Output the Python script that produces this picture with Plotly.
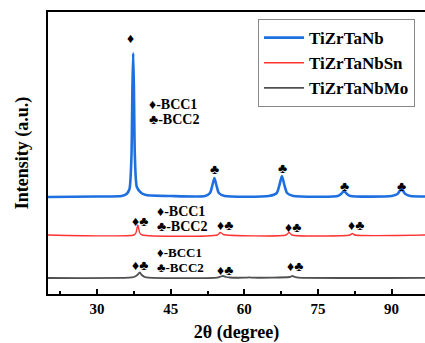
import plotly.graph_objects as go

# ---- data ----
series_names = ["TiZrTaNb", "TiZrTaNbSn", "TiZrTaNbMo"]

# TiZrTaNb (intensity above its own baseline)
tzn_x = [20, 30, 35, 36, 36.6, 37.0, 37.2, 37.35, 37.5, 37.7, 38.1, 39, 40, 45, 52, 53.0, 53.5, 53.9, 54.3, 54.8, 56,
         65, 66.6, 67.2, 67.65, 68.1, 68.7, 70, 79, 79.7, 80.3, 80.9, 81.6, 90, 91.2, 92.0, 92.8, 93.8, 97]
tzn_y = [0, 0.5, 1, 3, 8, 40, 110, 144, 110, 40, 10, 4, 2, 1, 1, 4, 12, 19, 12, 4, 1,
         1, 4, 13, 21, 13, 4, 1, 1, 3, 6, 3, 1, 1, 3, 8, 3, 1, 0.5]

# TiZrTaNbSn
sn_x = [20, 37.5, 37.9, 38.1, 38.3, 38.5, 38.7, 39.2, 54.5, 55.1, 55.7, 68.5, 69.1, 69.7, 81.5, 82.0, 82.5, 97]
sn_y = [0, 0, 2, 6, 10, 6, 2, 0, 0, 2.5, 0.5, 0, 2.5, 0, 0, 1.5, 0, 0]

# TiZrTaNbMo
mo_x = [20, 36.5, 37.5, 38.2, 38.7, 39.1, 39.7, 40.5, 54.5, 55.2, 55.7, 56.3, 57, 60, 61, 62, 69.2, 69.8, 70.4, 71, 97]
mo_y = [0, 0.3, 1, 3, 5.5, 3, 1, 0.3, 0.3, 1.5, 2, 1, 0.5, 0.3, 0.6, 0.3, 1, 2, 0.8, 0.3, 0.2]

offsets = [97, 59, 16]
colors = ["#1f6fe0", "#ff3333", "#505050"]
widths = [2.6, 1.4, 1.8]

xs = [tzn_x, sn_x, mo_x]
ys = [tzn_y, sn_y, mo_y]

font = "Liberation Serif"
fig = go.Figure()
for name, x, y, off, c, w in zip(series_names, xs, ys, offsets, colors, widths):
    fig.add_trace(go.Scatter(x=x, y=[v + off for v in y], mode="lines", name=name,
                             line=dict(color=c, width=w, shape="spline", smoothing=0.6)))

def ann(x, y, text, anchor="center", size=14):
    fig.add_annotation(x=x, y=y, text=text, showarrow=False, xanchor=anchor, yanchor="middle",
                       borderpad=0,
                       font=dict(family=font, size=size, color="black", weight="bold"))

# TiZrTaNb marks
ann(36.84, 256, "♦")
ann(40.4, 190, "♦-BCC1", "left")
ann(40.4, 175, "♣-BCC2", "left")
for xx, yy in [(53.9, 125), (67.7, 126), (80.3, 108), (92.0, 108)]:
    ann(xx, yy, "♣")
# TiZrTaNbSn marks
ann(41.9, 83, "♦-BCC1", "left")
ann(41.9, 68, "♣-BCC2", "left")
for xx, yy in [(38.8, 73), (56.1, 69), (69.9, 67), (82.7, 69)]:
    ann(xx, yy, "♦♣")
# TiZrTaNbMo marks
ann(41.9, 42, "♦-BCC1", "left", 13)
ann(41.9, 27, "♣-BCC2", "left", 13)
for xx, yy in [(38.8, 29), (56.1, 24), (70.3, 28)]:
    ann(xx, yy, "♦♣")

fig.update_layout(
    width=425, height=343,
    margin=dict(l=48, r=0, t=12, b=49),
    paper_bgcolor="white", plot_bgcolor="white",
    font=dict(family=font, color="black"),
    showlegend=True,
    legend=dict(x=0.557, y=0.975, xanchor="left", yanchor="top",
                bordercolor="#888888", borderwidth=1, bgcolor="white",
                font=dict(family=font, size=17, color="black", weight="bold"),
                tracegroupgap=0, itemwidth=40),
)
fig.update_xaxes(range=[20, 96.8], showline=True, linecolor="black", linewidth=2, mirror=True,
                 automargin=False,
                 tickvals=[30, 45, 60, 75, 90], ticks="inside", ticklen=5, tickwidth=2, tickcolor="black",
                 minor=dict(tickvals=[22.5, 37.5, 52.5, 67.5, 82.5], ticks="inside", ticklen=3, tickwidth=1.5, tickcolor="black"),
                 showgrid=False, zeroline=False,
                 tickfont=dict(family=font, size=15, color="black", weight="bold"),
                 title=dict(text="2θ (degree)", font=dict(family=font, size=18, color="black", weight="bold"), standoff=16))
fig.update_yaxes(range=[0, 282], showline=True, linecolor="black", linewidth=2, mirror=True,
                 automargin=False,
                 showticklabels=False, ticks="", showgrid=False, zeroline=False,
                 title=dict(text="Intensity (a.u.)", font=dict(family=font, size=18, color="black", weight="bold"), standoff=13))

fig.write_html("out.html", config={"displayModeBar": False},
               post_script="document.body.style.margin='0';")
